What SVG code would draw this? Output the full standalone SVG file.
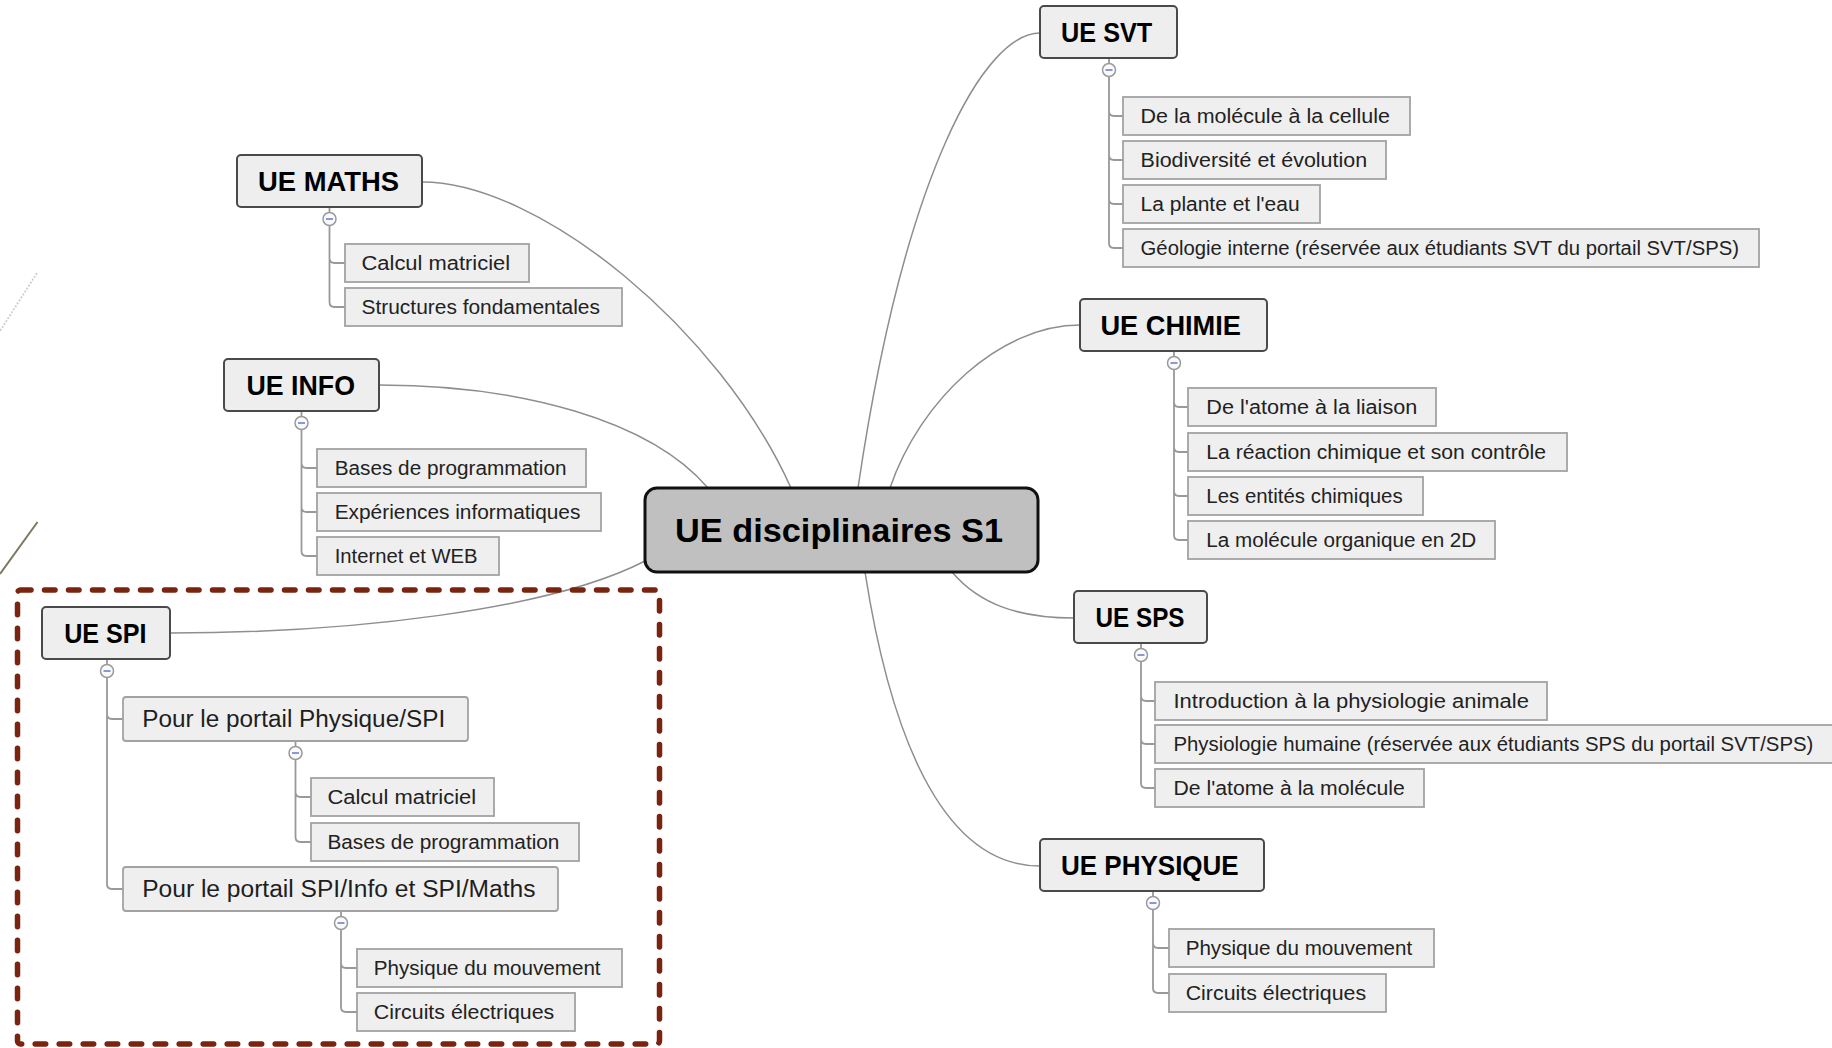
<svg xmlns="http://www.w3.org/2000/svg" width="1832" height="1048" viewBox="0 0 1832 1048">
  <style>
    .bg { fill: #ffffff; }
    .root-box { fill: #c0c0c0; stroke: #111111; stroke-width: 3; }
    .root-txt { font-family: "Liberation Sans", Arial, sans-serif; font-weight: bold; font-size: 34px; fill: #000000; }
    .ue-box { fill: #eeeeee; stroke: #4a4a4a; stroke-width: 2; }
    .ue-txt { font-family: "Liberation Sans", Arial, sans-serif; font-weight: bold; font-size: 28px; fill: #000000; }
    .sub-box { fill: #efefef; stroke: #a2a2a2; stroke-width: 1.8; }
    .sub-txt { font-family: "Liberation Sans", Arial, sans-serif; font-size: 23px; fill: #1e1e1e; }
    .leaf-box { fill: #efefef; stroke: #a2a2a2; stroke-width: 1.8; }
    .leaf-txt { font-family: "Liberation Sans", Arial, sans-serif; font-size: 19.5px; fill: #222222; }
    .link { fill: none; stroke: #8e8e8e; stroke-width: 1.5; }
    .tree { fill: none; stroke: #999999; stroke-width: 1.8; }
    .toggle { fill: #fafafa; stroke: #9a9a9a; stroke-width: 1.5; }
    .minus { stroke: #6f7fd0; stroke-width: 1.6; }
    .frame { fill: none; stroke: #7a2410; stroke-width: 5.5; stroke-dasharray: 10.5 13.5; stroke-linecap: round; }
  </style>

  <rect class="bg" x="0" y="0" width="1832" height="1048"/>

  <!-- slide edge decoration -->
  <g id="decor">
    <line x1="37" y1="273" x2="0" y2="331" stroke="#cfcfc8" stroke-width="1.8" stroke-dasharray="2 1.5"/>
    <line x1="37.5" y1="522" x2="0" y2="574" stroke="#7d7660" stroke-width="2"/>
  </g>

  <!-- root-to-branch curves and branch trees -->
  <g id="connectors">
    <path class="link" d="M422,182 C540,182 720,330 791,488"/>
    <path class="link" d="M379,385 C520,385 650,420 708,488"/>
    <path class="link" d="M170,633 C350,633 550,610 645,561"/>
    <path class="link" d="M1040,33 C985,33 905,170 858,488"/>
    <path class="link" d="M1080,325 C1000,325 920,400 890,488"/>
    <path class="link" d="M952,572 C980,605 1020,618 1074,618"/>
    <path class="link" d="M865,572 C885,700 930,866 1040,866"/>

    <!-- MATHS tree -->
    <path class="tree" d="M329.5,207 V212.5 M329.5,225.5 V302 Q329.5,307 334.5,307 H345 M329.5,258 Q329.5,263 334.5,263 H345"/>
    <!-- INFO tree -->
    <path class="tree" d="M301.5,411 V416.5 M301.5,429.5 V551 Q301.5,556 306.5,556 H317 M301.5,463 Q301.5,468 306.5,468 H317 M301.5,507 Q301.5,512 306.5,512 H317"/>
    <!-- SPI tree -->
    <path class="tree" d="M107,659 V664.5 M107,677.5 V884 Q107,889 112,889 H123 M107,714 Q107,719 112,719 H123"/>
    <path class="tree" d="M295.5,741 V746.5 M295.5,759.5 V837 Q295.5,842 300.5,842 H311 M295.5,792 Q295.5,797 300.5,797 H311"/>
    <path class="tree" d="M341,911 V916.5 M341,929.5 V1007 Q341,1012 346,1012 H357 M341,963 Q341,968 346,968 H357"/>
    <!-- SVT tree -->
    <path class="tree" d="M1109,58 V63.5 M1109,76.5 V243 Q1109,248 1114,248 H1123 M1109,111 Q1109,116 1114,116 H1123 M1109,155 Q1109,160 1114,160 H1123 M1109,199 Q1109,204 1114,204 H1123"/>
    <!-- CHIMIE tree -->
    <path class="tree" d="M1174,351 V356.5 M1174,369.5 V535 Q1174,540 1179,540 H1188 M1174,402 Q1174,407 1179,407 H1188 M1174,447 Q1174,452 1179,452 H1188 M1174,491 Q1174,496 1179,496 H1188"/>
    <!-- SPS tree -->
    <path class="tree" d="M1141,643 V648.5 M1141,661.5 V783 Q1141,788 1146,788 H1155 M1141,696 Q1141,701 1146,701 H1155 M1141,739 Q1141,744 1146,744 H1155"/>
    <!-- PHYSIQUE tree -->
    <path class="tree" d="M1153,891 V896.5 M1153,909.5 V988 Q1153,993 1158,993 H1169 M1153,943 Q1153,948 1158,948 H1169"/>
  </g>

  <!-- collapse toggles -->
  <g id="toggles">
    <g><circle class="toggle" cx="329.5" cy="219" r="6.5"/><line class="minus" x1="326" y1="219" x2="333" y2="219"/></g>
    <g><circle class="toggle" cx="301.5" cy="423" r="6.5"/><line class="minus" x1="298" y1="423" x2="305" y2="423"/></g>
    <g><circle class="toggle" cx="107" cy="671" r="6.5"/><line class="minus" x1="103.5" y1="671" x2="110.5" y2="671"/></g>
    <g><circle class="toggle" cx="295.5" cy="753" r="6.5"/><line class="minus" x1="292" y1="753" x2="299" y2="753"/></g>
    <g><circle class="toggle" cx="341" cy="923" r="6.5"/><line class="minus" x1="337.5" y1="923" x2="344.5" y2="923"/></g>
    <g><circle class="toggle" cx="1109" cy="70" r="6.5"/><line class="minus" x1="1105.5" y1="70" x2="1112.5" y2="70"/></g>
    <g><circle class="toggle" cx="1174" cy="363" r="6.5"/><line class="minus" x1="1170.5" y1="363" x2="1177.5" y2="363"/></g>
    <g><circle class="toggle" cx="1141" cy="655" r="6.5"/><line class="minus" x1="1137.5" y1="655" x2="1144.5" y2="655"/></g>
    <g><circle class="toggle" cx="1153" cy="903" r="6.5"/><line class="minus" x1="1149.5" y1="903" x2="1156.5" y2="903"/></g>
  </g>

  <!-- central topic -->
  <g id="root">
    <rect class="root-box" x="645" y="488" width="393" height="84" rx="12"/>
    <text class="root-txt" x="675" y="542" textLength="328" lengthAdjust="spacingAndGlyphs">UE disciplinaires S1</text>
  </g>

  <!-- UE MATHS -->
  <g id="ue-maths">
    <rect class="ue-box" x="237" y="155" width="185" height="52" rx="4"/>
    <text class="ue-txt" x="258" y="191" textLength="141" lengthAdjust="spacingAndGlyphs">UE MATHS</text>
  </g>
  <g id="maths-calcul">
    <rect class="leaf-box" x="345" y="244" width="184" height="38"/>
    <text class="leaf-txt" x="361.5" y="270" textLength="148.6" lengthAdjust="spacingAndGlyphs">Calcul matriciel</text>
  </g>
  <g id="maths-structures">
    <rect class="leaf-box" x="345" y="288" width="277" height="38"/>
    <text class="leaf-txt" x="361.5" y="314" textLength="238.4" lengthAdjust="spacingAndGlyphs">Structures fondamentales</text>
  </g>

  <!-- UE INFO -->
  <g id="ue-info">
    <rect class="ue-box" x="224" y="359" width="155" height="52" rx="4"/>
    <text class="ue-txt" x="246.5" y="395" textLength="108.5" lengthAdjust="spacingAndGlyphs">UE INFO</text>
  </g>
  <g id="info-bases">
    <rect class="leaf-box" x="317" y="449" width="269" height="38"/>
    <text class="leaf-txt" x="334.7" y="475" textLength="231.8" lengthAdjust="spacingAndGlyphs">Bases de programmation</text>
  </g>
  <g id="info-experiences">
    <rect class="leaf-box" x="317" y="493" width="284" height="38"/>
    <text class="leaf-txt" x="334.7" y="519" textLength="245.7" lengthAdjust="spacingAndGlyphs">Expériences informatiques</text>
  </g>
  <g id="info-web">
    <rect class="leaf-box" x="317" y="537" width="182" height="38"/>
    <text class="leaf-txt" x="334.7" y="563" textLength="142.9" lengthAdjust="spacingAndGlyphs">Internet et WEB</text>
  </g>

  <!-- UE SPI, framed -->
  <rect class="frame" x="17.5" y="590" width="642" height="454" rx="3"/>
  <g id="ue-spi">
    <rect class="ue-box" x="42" y="607" width="128" height="52" rx="4"/>
    <text class="ue-txt" x="64.2" y="643" textLength="82.4" lengthAdjust="spacingAndGlyphs">UE SPI</text>
  </g>
  <g id="spi-physique">
    <rect class="sub-box" x="123" y="697" width="345" height="44" rx="3"/>
    <text class="sub-txt" x="142.2" y="727" textLength="303" lengthAdjust="spacingAndGlyphs">Pour le portail Physique/SPI</text>
  </g>
  <g id="spi-physique-calcul">
    <rect class="leaf-box" x="311" y="778" width="183" height="38"/>
    <text class="leaf-txt" x="327.4" y="804" textLength="148.8" lengthAdjust="spacingAndGlyphs">Calcul matriciel</text>
  </g>
  <g id="spi-physique-bases">
    <rect class="leaf-box" x="311" y="823" width="268" height="38"/>
    <text class="leaf-txt" x="327.4" y="849" textLength="232" lengthAdjust="spacingAndGlyphs">Bases de programmation</text>
  </g>
  <g id="spi-info-maths">
    <rect class="sub-box" x="123" y="867" width="435" height="44" rx="3"/>
    <text class="sub-txt" x="142.2" y="897" textLength="393.3" lengthAdjust="spacingAndGlyphs">Pour le portail SPI/Info et SPI/Maths</text>
  </g>
  <g id="spi-info-mouvement">
    <rect class="leaf-box" x="357" y="949" width="265" height="38"/>
    <text class="leaf-txt" x="373.8" y="975" textLength="226.8" lengthAdjust="spacingAndGlyphs">Physique du mouvement</text>
  </g>
  <g id="spi-info-circuits">
    <rect class="leaf-box" x="357" y="993" width="218" height="38"/>
    <text class="leaf-txt" x="373.8" y="1019" textLength="180.4" lengthAdjust="spacingAndGlyphs">Circuits électriques</text>
  </g>

  <!-- UE SVT -->
  <g id="ue-svt">
    <rect class="ue-box" x="1040" y="6" width="137" height="52" rx="4"/>
    <text class="ue-txt" x="1061" y="42" textLength="91.3" lengthAdjust="spacingAndGlyphs">UE SVT</text>
  </g>
  <g id="svt-cellule">
    <rect class="leaf-box" x="1123" y="97" width="287" height="38"/>
    <text class="leaf-txt" x="1140.6" y="123" textLength="249.4" lengthAdjust="spacingAndGlyphs">De la molécule à la cellule</text>
  </g>
  <g id="svt-biodiversite">
    <rect class="leaf-box" x="1123" y="141" width="263" height="38"/>
    <text class="leaf-txt" x="1140.6" y="167" textLength="226.5" lengthAdjust="spacingAndGlyphs">Biodiversité et évolution</text>
  </g>
  <g id="svt-plante">
    <rect class="leaf-box" x="1123" y="185" width="197" height="38"/>
    <text class="leaf-txt" x="1140.6" y="211" textLength="159" lengthAdjust="spacingAndGlyphs">La plante et l'eau</text>
  </g>
  <g id="svt-geologie">
    <rect class="leaf-box" x="1123" y="229" width="636" height="38"/>
    <text class="leaf-txt" x="1140.6" y="255" textLength="598.4" lengthAdjust="spacingAndGlyphs">Géologie interne (réservée aux étudiants SVT du portail SVT/SPS)</text>
  </g>

  <!-- UE CHIMIE -->
  <g id="ue-chimie">
    <rect class="ue-box" x="1080" y="299" width="187" height="52" rx="4"/>
    <text class="ue-txt" x="1100.4" y="335" textLength="140.6" lengthAdjust="spacingAndGlyphs">UE CHIMIE</text>
  </g>
  <g id="chimie-liaison">
    <rect class="leaf-box" x="1188" y="388" width="248" height="38"/>
    <text class="leaf-txt" x="1206.3" y="414" textLength="211" lengthAdjust="spacingAndGlyphs">De l'atome à la liaison</text>
  </g>
  <g id="chimie-reaction">
    <rect class="leaf-box" x="1188" y="433" width="379" height="38"/>
    <text class="leaf-txt" x="1206.3" y="459" textLength="339.7" lengthAdjust="spacingAndGlyphs">La réaction chimique et son contrôle</text>
  </g>
  <g id="chimie-entites">
    <rect class="leaf-box" x="1188" y="477" width="235" height="38"/>
    <text class="leaf-txt" x="1206.3" y="503" textLength="196.4" lengthAdjust="spacingAndGlyphs">Les entités chimiques</text>
  </g>
  <g id="chimie-organique">
    <rect class="leaf-box" x="1188" y="521" width="307" height="38"/>
    <text class="leaf-txt" x="1206.3" y="547" textLength="270" lengthAdjust="spacingAndGlyphs">La molécule organique en 2D</text>
  </g>

  <!-- UE SPS -->
  <g id="ue-sps">
    <rect class="ue-box" x="1074" y="591" width="133" height="52" rx="4"/>
    <text class="ue-txt" x="1095.5" y="627" textLength="89" lengthAdjust="spacingAndGlyphs">UE SPS</text>
  </g>
  <g id="sps-animale">
    <rect class="leaf-box" x="1155" y="682" width="392" height="38"/>
    <text class="leaf-txt" x="1173.5" y="708" textLength="355.4" lengthAdjust="spacingAndGlyphs">Introduction à la physiologie animale</text>
  </g>
  <g id="sps-humaine">
    <rect class="leaf-box" x="1155" y="725" width="690" height="38"/>
    <text class="leaf-txt" x="1173.5" y="751" textLength="639.8" lengthAdjust="spacingAndGlyphs">Physiologie humaine (réservée aux étudiants SPS du portail SVT/SPS)</text>
  </g>
  <g id="sps-molecule">
    <rect class="leaf-box" x="1155" y="769" width="269" height="38"/>
    <text class="leaf-txt" x="1173.5" y="795" textLength="231.3" lengthAdjust="spacingAndGlyphs">De l'atome à la molécule</text>
  </g>

  <!-- UE PHYSIQUE -->
  <g id="ue-physique">
    <rect class="ue-box" x="1040" y="839" width="224" height="52" rx="4"/>
    <text class="ue-txt" x="1061" y="875" textLength="177.7" lengthAdjust="spacingAndGlyphs">UE PHYSIQUE</text>
  </g>
  <g id="physique-mouvement">
    <rect class="leaf-box" x="1169" y="929" width="265" height="38"/>
    <text class="leaf-txt" x="1185.7" y="955" textLength="226.5" lengthAdjust="spacingAndGlyphs">Physique du mouvement</text>
  </g>
  <g id="physique-circuits">
    <rect class="leaf-box" x="1169" y="974" width="217" height="38"/>
    <text class="leaf-txt" x="1185.7" y="1000" textLength="180.4" lengthAdjust="spacingAndGlyphs">Circuits électriques</text>
  </g>
</svg>
